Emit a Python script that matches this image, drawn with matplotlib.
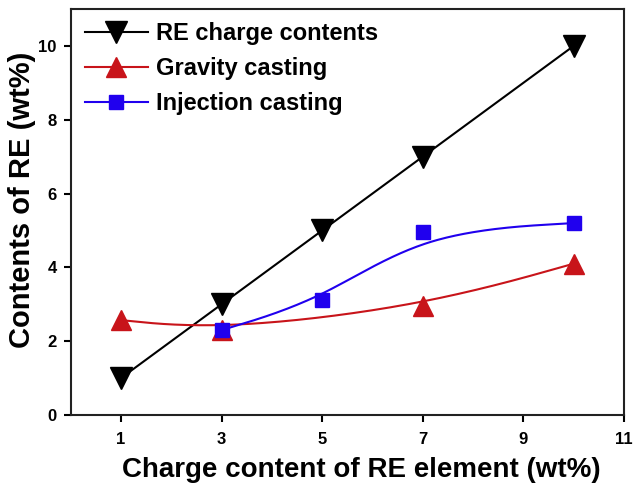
import numpy as np
import matplotlib
matplotlib.use("Agg")
import matplotlib.pyplot as plt

plt.rcParams['font.family'] = ['Liberation Sans', 'DejaVu Sans']
plt.rcParams['font.weight'] = 'bold'

# Data
re_x = [1, 3, 5, 7, 10]
re_y = [1.0, 3.0, 5.0, 7.0, 10.0]
grav_x = [1, 3, 7, 10]
grav_y = [2.57, 2.30, 2.95, 4.10]
inj_x = [3, 5, 7, 10]
inj_y = [2.30, 3.12, 4.96, 5.20]

labels = ["RE charge contents", "Gravity casting", "Injection casting"]
xticks = [1, 3, 5, 7, 9, 11]
yticks = [0, 2, 4, 6, 8, 10]

BLACK = '#000000'
RED = '#C8141A'
BLUE = '#2000EE'


def bspline(xs, ys, n=60):
    """Uniform cubic B-spline through end points, interior points as controls."""
    P = np.column_stack([xs, ys]).astype(float)
    Q = np.vstack([P[0], P[0], P, P[-1], P[-1]])
    t = np.linspace(0, 1, n)
    b0 = (1 - t) ** 3 / 6
    b1 = (3 * t ** 3 - 6 * t ** 2 + 4) / 6
    b2 = (-3 * t ** 3 + 3 * t ** 2 + 3 * t + 1) / 6
    b3 = t ** 3 / 6
    pts = []
    for i in range(len(Q) - 3):
        seg = (np.outer(b0, Q[i]) + np.outer(b1, Q[i + 1]) +
               np.outer(b2, Q[i + 2]) + np.outer(b3, Q[i + 3]))
        pts.append(seg)
    pts = np.vstack(pts)
    return pts[:, 0], pts[:, 1]


fig = plt.figure(figsize=(6.35, 4.83), dpi=100)
ax = fig.add_axes([0.1113, 0.1408, 0.8714, 0.8406])

# RE charge contents (straight line)
ax.plot(re_x, re_y, color=BLACK, lw=1.5, zorder=3)
ax.plot(re_x, re_y, linestyle='none', marker='v', ms=15.5, color=BLACK, zorder=4)

# Gravity casting (smooth curve)
gx, gy = bspline(grav_x, grav_y)
ax.plot(gx, gy, color=RED, lw=1.5, zorder=3)
ax.plot(grav_x, grav_y, linestyle='none', marker='^', ms=14.5, color=RED, zorder=4)

# Injection casting (smooth curve)
ix, iy = bspline(inj_x, inj_y)
ax.plot(ix, iy, color=BLUE, lw=1.5, zorder=5)
ax.plot(inj_x, inj_y, linestyle='none', marker='s', ms=10.5, color=BLUE, zorder=6)

# legend proxies
h1, = ax.plot([], [], color=BLACK, lw=1.5, marker='v', ms=15.5)
h2, = ax.plot([], [], color=RED, lw=1.5, marker='^', ms=14.5)
h3, = ax.plot([], [], color=BLUE, lw=1.5, marker='s', ms=10.5)
leg = ax.legend([h1, h2, h3], labels, loc='upper left', frameon=False,
                bbox_to_anchor=(0.026, 0.967), borderaxespad=0, borderpad=0,
                handlelength=2.65, handletextpad=0.35, labelspacing=0.5,
                prop={'size': 17, 'weight': 'bold'})

ax.set_xlim(0, 11)
ax.set_ylim(0, 11)
ax.set_xticks(xticks)
ax.set_yticks(yticks)
ax.tick_params(direction='out', length=5, width=1.5, labelsize=12,
               top=False, right=False)
ax.tick_params(axis='x', pad=7)
ax.tick_params(axis='y', pad=5)
for lab in ax.get_xticklabels() + ax.get_yticklabels():
    lab.set_fontweight('bold')
for sp in ax.spines.values():
    sp.set_linewidth(1.5)
    sp.set_color('#222222')

ax.set_xlabel("Charge content of RE element (wt%)", fontsize=20,
              fontweight='bold')
ax.set_ylabel("Contents of RE (wt%)", fontsize=21, fontweight='bold')
ax.xaxis.set_label_coords(0.525, -0.103)
ax.yaxis.set_label_coords(-0.062, 0.53)

fig.savefig("out.png", dpi=100)
